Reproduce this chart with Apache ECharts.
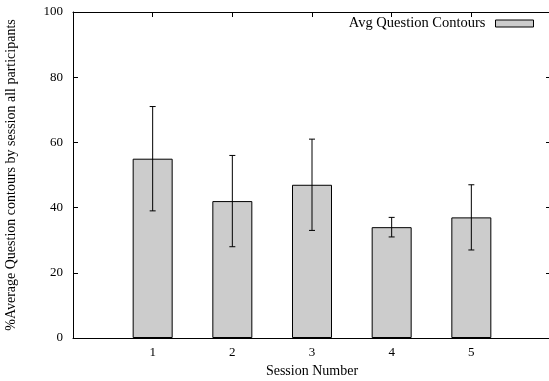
<!DOCTYPE html>
<html>
<head>
<meta charset="utf-8">
<script src="https://cdn.jsdelivr.net/npm/echarts@6/dist/echarts.min.js"></script>
<style>html,body{margin:0;padding:0;background:#fff}#c{width:549px;height:381px}</style>
</head>
<body>
<div id="c"></div>
<script>
var sessions = [1, 2, 3, 4, 5];
var avgValues = [55, 42, 47, 34, 37];
var errLow = [39, 28, 33, 31, 27];
var errHigh = [71, 56, 61, 37, 47];
var yTicks = [0, 20, 40, 60, 80, 100];
var seriesName = 'Avg Question Contours';

var FONT = '"Liberation Serif", "Times New Roman", serif';
var chart = echarts.init(document.getElementById('c'), null, {renderer: 'canvas'});

var barData = sessions.map(function (s, i) { return [s, avgValues[i]]; });
var errData = sessions.map(function (s, i) { return [s, errLow[i], errHigh[i]]; });

chart.setOption({
  animation: false,
  backgroundColor: '#ffffff',
  grid: {left: 73, top: 12, right: -2, bottom: 43, containLabel: false, outerBoundsMode: 'none'},
  legend: {
    data: [{name: seriesName, icon: 'rect'}],
    right: 10, top: 11,
    align: 'right',
    itemWidth: 38, itemHeight: 7,
    itemStyle: {color: '#cccccc', borderColor: '#000', borderWidth: 1},
    textStyle: {fontFamily: FONT, fontSize: 14.5, color: '#000', padding: [0, 5, 0, 0]},
    selectedMode: false
  },
  xAxis: [{
    type: 'value', min: 0, max: 6, interval: 1,
    name: 'Session Number', nameLocation: 'middle', nameGap: 25,
    nameTextStyle: {fontFamily: FONT, fontSize: 14, color: '#000'},
    axisLine: {show: true, lineStyle: {color: '#000', width: 1}},
    axisTick: {show: true, inside: true, length: 5, lineStyle: {color: '#000'}},
    axisLabel: {
      fontFamily: FONT, fontSize: 13, color: '#000', margin: 8,
      formatter: function (v) { return sessions.indexOf(v) >= 0 ? String(v) : ''; }
    },
    splitLine: {show: false}
  }, {
    type: 'value', min: 0, max: 6, interval: 1, position: 'top',
    axisLine: {show: true, onZero: false, lineStyle: {color: '#000', width: 1}},
    axisTick: {show: true, inside: true, length: 5, lineStyle: {color: '#000'}},
    axisLabel: {show: false},
    splitLine: {show: false}
  }],
  yAxis: [{
    type: 'value', min: 0, max: 100, interval: 20,
    name: '%Average Question contours by session all participants',
    nameLocation: 'middle', nameGap: 55, nameRotate: 90,
    nameTextStyle: {fontFamily: FONT, fontSize: 14, color: '#000'},
    axisLine: {show: true, lineStyle: {color: '#000', width: 1}},
    axisTick: {show: true, inside: true, length: 5, lineStyle: {color: '#000'}},
    axisLabel: {fontFamily: FONT, fontSize: 13, color: '#000', margin: 10,
      formatter: function (v) { return yTicks.indexOf(v) >= 0 ? String(v) : ''; }},
    splitLine: {show: false}
  }, {
    type: 'value', min: 0, max: 100, interval: 20, position: 'right',
    axisLine: {show: true, onZero: false, lineStyle: {color: '#000', width: 1}},
    axisTick: {show: true, inside: true, length: 5, lineStyle: {color: '#000'}},
    axisLabel: {show: false},
    splitLine: {show: false}
  }],
  series: [{
    name: seriesName,
    type: 'bar',
    data: barData,
    barWidth: 40,
    itemStyle: {color: '#cccccc', borderColor: '#000', borderWidth: 1},
    z: 2
  }, {
    type: 'custom',
    name: 'err',
    data: errData,
    z: 5,
    renderItem: function (params, api) {
      var x = api.value(0);
      var lo = api.coord([x, api.value(1)]);
      var hi = api.coord([x, api.value(2)]);
      var cap = 3;
      var st = {stroke: '#000', lineWidth: 1};
      return {
        type: 'group',
        children: [
          {type: 'line', shape: {x1: lo[0], y1: lo[1], x2: hi[0], y2: hi[1]}, style: st},
          {type: 'line', shape: {x1: lo[0] - cap, y1: lo[1], x2: lo[0] + cap, y2: lo[1]}, style: st},
          {type: 'line', shape: {x1: hi[0] - cap, y1: hi[1], x2: hi[0] + cap, y2: hi[1]}, style: st}
        ]
      };
    }
  }]
});
</script>
</body>
</html>
